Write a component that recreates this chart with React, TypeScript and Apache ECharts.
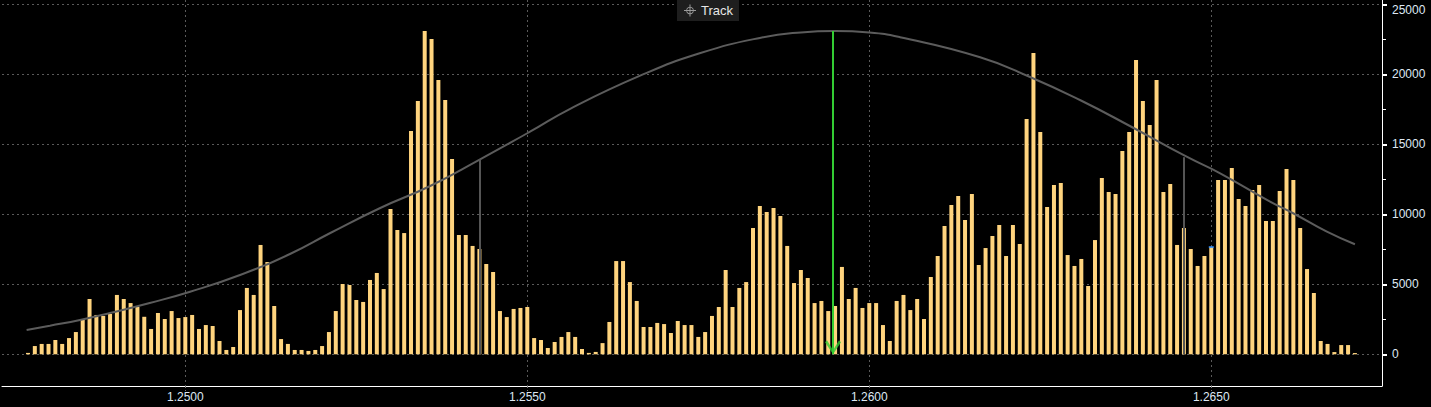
import React, { useEffect, useRef } from "react";
import * as echarts from "echarts";

// Price levels (one bar per pip)
const prices = [
  1.2477, 1.2478, 1.2479, 1.248, 1.2481, 1.2482, 1.2483, 1.2484, 1.2485, 1.2486,
  1.2487, 1.2488, 1.2489, 1.249, 1.2491, 1.2492, 1.2493, 1.2494, 1.2495, 1.2496,
  1.2497, 1.2498, 1.2499, 1.25, 1.2501, 1.2502, 1.2503, 1.2504, 1.2505, 1.2506,
  1.2507, 1.2508, 1.2509, 1.251, 1.2511, 1.2512, 1.2513, 1.2514, 1.2515, 1.2516,
  1.2517, 1.2518, 1.2519, 1.252, 1.2521, 1.2522, 1.2523, 1.2524, 1.2525, 1.2526,
  1.2527, 1.2528, 1.2529, 1.253, 1.2531, 1.2532, 1.2533, 1.2534, 1.2535, 1.2536,
  1.2537, 1.2538, 1.2539, 1.254, 1.2541, 1.2542, 1.2543, 1.2544, 1.2545, 1.2546,
  1.2547, 1.2548, 1.2549, 1.255, 1.2551, 1.2552, 1.2553, 1.2554, 1.2555, 1.2556,
  1.2557, 1.2558, 1.2559, 1.256, 1.2561, 1.2562, 1.2563, 1.2564, 1.2565, 1.2566,
  1.2567, 1.2568, 1.2569, 1.257, 1.2571, 1.2572, 1.2573, 1.2574, 1.2575, 1.2576,
  1.2577, 1.2578, 1.2579, 1.258, 1.2581, 1.2582, 1.2583, 1.2584, 1.2585, 1.2586,
  1.2587, 1.2588, 1.2589, 1.259, 1.2591, 1.2592, 1.2593, 1.2594, 1.2595, 1.2596,
  1.2597, 1.2598, 1.2599, 1.26, 1.2601, 1.2602, 1.2603, 1.2604, 1.2605, 1.2606,
  1.2607, 1.2608, 1.2609, 1.261, 1.2611, 1.2612, 1.2613, 1.2614, 1.2615, 1.2616,
  1.2617, 1.2618, 1.2619, 1.262, 1.2621, 1.2622, 1.2623, 1.2624, 1.2625, 1.2626,
  1.2627, 1.2628, 1.2629, 1.263, 1.2631, 1.2632, 1.2633, 1.2634, 1.2635, 1.2636,
  1.2637, 1.2638, 1.2639, 1.264, 1.2641, 1.2642, 1.2643, 1.2644, 1.2645, 1.2646,
  1.2647, 1.2648, 1.2649, 1.265, 1.2651, 1.2652, 1.2653, 1.2654, 1.2655, 1.2656,
  1.2657, 1.2658, 1.2659, 1.266, 1.2661, 1.2662, 1.2663, 1.2664, 1.2665, 1.2666,
  1.2667, 1.2668, 1.2669, 1.267, 1.2671,
];

// Volume traded at each price level
const volumes = [
  100, 590, 740, 740, 1020, 740, 1160, 1590, 2450, 3950,
  2810, 2740, 2880, 4240, 3950, 3660, 3380, 2680, 1810, 2950,
  2520, 3090, 2590, 2660, 2810, 1810, 2090, 2020, 950, 310,
  520, 3160, 4740, 4240, 7810, 6590, 3450, 1090, 740, 310,
  310, 240, 310, 590, 1590, 3090, 5020, 4950, 3880, 3740,
  5310, 5810, 4660, 10380, 8880, 8660, 15950, 18090, 23090, 22520,
  19590, 18160, 13950, 8520, 8520, 7740, 7520, 6450, 5880, 3090,
  2660, 3240, 3310, 3380, 1160, 1020, 450, 880, 1240, 1590,
  1240, 380, 100, 170, 800, 2310, 6660, 6660, 5160, 3810,
  1950, 1950, 2240, 2160, 1520, 2380, 2090, 2090, 1240, 1590,
  2740, 3380, 6020, 3380, 4740, 5160, 9020, 10590, 10160, 10450,
  9880, 7740, 5090, 6020, 5450, 3660, 3810, 3090, 3450, 6240,
  3950, 4740, 3310, 3660, 3660, 2090, 950, 3810, 4240, 3160,
  3950, 2520, 5520, 7020, 9160, 10660, 11310, 9590, 11450, 6380,
  7590, 8450, 9240, 7020, 9240, 7880, 16810, 21520, 15880, 10520,
  12090, 12240, 7090, 6310, 6810, 4880, 8160, 12590, 11590, 11450,
  14520, 15880, 21020, 18090, 16380, 19590, 11590, 12160, 7810, 9020,
  7520, 6310, 7020, 7660, 12450, 12450, 13310, 11090, 10590, 11740,
  12090, 9520, 9520, 11670, 13240, 12450, 9020, 6090, 4380, 950,
  740, 160, 660, 660, 90,
];

// Fitted distribution curve ("Track")
const curvePrices = [
  1.24768, 1.24802, 1.24846, 1.2489, 1.24948, 1.25007, 1.2508, 1.25153, 1.25212,
  1.25285, 1.25358, 1.25431, 1.25504, 1.25562, 1.25665, 1.25752, 1.2584, 1.2590,
  1.2595, 1.26, 1.26045, 1.26162, 1.26235, 1.26308, 1.26381, 1.26464, 1.26513,
  1.26586, 1.26619, 1.26669, 1.2671,
];
const curveValues = [
  1736, 2043, 2450, 2950, 3664, 4471, 5664, 7164, 8664, 10450, 12021, 13929,
  15900, 17520, 19900, 21500, 22600, 22990, 23093, 22990, 22650, 21220, 19810,
  18164, 16307, 14114, 12929, 10900, 10093, 8757, 7857,
];

// +/- 1 sigma markers and the mean arrow
const sigmaPrices = [1.2543, 1.2646];
const sigmaValues = [13950, 14070];
const meanPrice = 1.25947;
const meanValue = 23093;

// last trade marker
const lastTradePrice = 1.265;
const lastTradeValue = 7660;

// axis ticks
const xTickValues = [1.25, 1.255, 1.26, 1.265];
const yTickValues = [0, 5000, 10000, 15000, 20000, 25000];
const yMinorTickValues = [2500, 7500, 12500, 17500, 22500];

const FONT = "Liberation Sans";
const LABEL_COLOR = "#dfe8f4";
const GRID_COLOR = "#5a5a5a";

const crosshair =
  "path://M5.5,0H6.5V12H5.5Z M0,5.5H12V6.5H0Z M6,2.2A3.8,3.8 0 1,1 5.99,2.2Z M6,3A3,3 0 1,0 6.01,3Z";
const chevronDown = "path://M0,2 L2,0 L8,10 L14,0 L16,2 L8,14 Z";

export default function App() {
  const ref = useRef<HTMLDivElement>(null);

  useEffect(() => {
    document.body.style.margin = "0";
    document.body.style.background = "#000";
    if (!ref.current) return;
    const chart = echarts.init(ref.current, null, { renderer: "svg" });

    const yMin = -2264;
    const yMax = 25307;

    chart.setOption({
      animation: false,
      backgroundColor: "#000",
      legend: {
        data: [{ name: "Track", icon: crosshair, itemStyle: { color: "#9a9a9a" } }],
        left: 677,
        top: 0,
        backgroundColor: "#1e1e1e",
        padding: [4, 6, 4, 7],
        itemWidth: 12,
        itemHeight: 12,
        selectedMode: false,
        textStyle: { color: "#e6e6e6", fontSize: 13, fontFamily: FONT },
      },
      grid: {
        left: 2,
        right: 49,
        top: 0,
        bottom: 21,
        containLabel: false,
        outerBoundsMode: "none",
      },
      xAxis: {
        type: "value",
        min: 1.24732,
        max: 1.267496,
        axisLine: { show: true, onZero: false, lineStyle: { color: "#ffffff", width: 1 } },
        axisTick: {
          show: true,
          customValues: xTickValues,
          length: 5,
          lineStyle: { color: "#777", type: [2, 2] },
        },
        axisLabel: {
          customValues: xTickValues,
          formatter: (v: number) => v.toFixed(4),
          color: LABEL_COLOR,
          fontSize: 12,
          fontFamily: FONT,
          margin: 5,
        },
        splitLine: {
          show: true,
          lineStyle: { color: GRID_COLOR, type: [2, 3], width: 1 },
        },
      },
      yAxis: [
        {
          type: "value",
          position: "right",
          min: yMin,
          max: yMax,
          axisLine: { show: true, lineStyle: { color: "#ffffff", width: 1 } },
          axisTick: {
            show: true,
            customValues: yTickValues,
            length: 5,
            lineStyle: { color: "#ffffff", width: 2 },
          },
          axisLabel: {
            customValues: yTickValues,
            formatter: (v: number) => String(Math.round(v)),
            color: LABEL_COLOR,
            fontSize: 12,
            fontFamily: FONT,
            margin: 10,
            verticalAlignMaxLabel: "top",
          },
          splitLine: {
            show: true,
            lineStyle: { color: GRID_COLOR, type: [2, 3], width: 1 },
          },
        },
        {
          type: "value",
          position: "right",
          min: yMin,
          max: yMax,
          axisLine: { show: false },
          axisTick: {
            show: true,
            customValues: yMinorTickValues,
            length: 4,
            lineStyle: { color: "#ffffff", width: 1 },
          },
          axisLabel: { show: false },
          splitLine: { show: false },
        },
      ],
      series: [
        {
          name: "Volume",
          type: "bar",
          data: prices.map((p, i) => [p, volumes[i]]),
          barWidth: 4,
          itemStyle: { color: "#FFD47E" },
          z: 2,
          silent: true,
        },
        {
          name: "Track",
          type: "line",
          data: curvePrices.map((p, i) => [p, curveValues[i]]),
          smooth: true,
          showSymbol: false,
          lineStyle: { color: "#5c5c5c", width: 2 },
          itemStyle: { color: "#5c5c5c" },
          z: 3,
          silent: true,
          markLine: {
            silent: true,
            symbol: "none",
            label: { show: false },
            lineStyle: { color: "#555555", width: 2, type: "solid" },
            data: sigmaPrices.map((p, i) => [
              { coord: [p, 0] },
              { coord: [p, sigmaValues[i]] },
            ]),
          },
        },
        {
          name: "Mean",
          type: "scatter",
          data: [[meanPrice, 0]],
          symbol: chevronDown,
          symbolSize: [16, 14],
          symbolOffset: [0, "-50%"],
          itemStyle: { color: "#33cc33" },
          z: 4,
          silent: true,
          markLine: {
            silent: true,
            symbol: "none",
            label: { show: false },
            lineStyle: { color: "#33cc33", width: 2, type: "solid" },
            data: [[{ coord: [meanPrice, 0] }, { coord: [meanPrice, meanValue] }]],
          },
        },
        {
          name: "Last",
          type: "scatter",
          data: [[lastTradePrice, lastTradeValue]],
          symbol: "rect",
          symbolSize: [5, 2],
          itemStyle: { color: "#2f8fff" },
          z: 4,
          silent: true,
        },
      ],
    });

    return () => chart.dispose();
  }, []);

  return <div ref={ref} style={{ width: 1431, height: 407, background: "#000" }} />;
}
